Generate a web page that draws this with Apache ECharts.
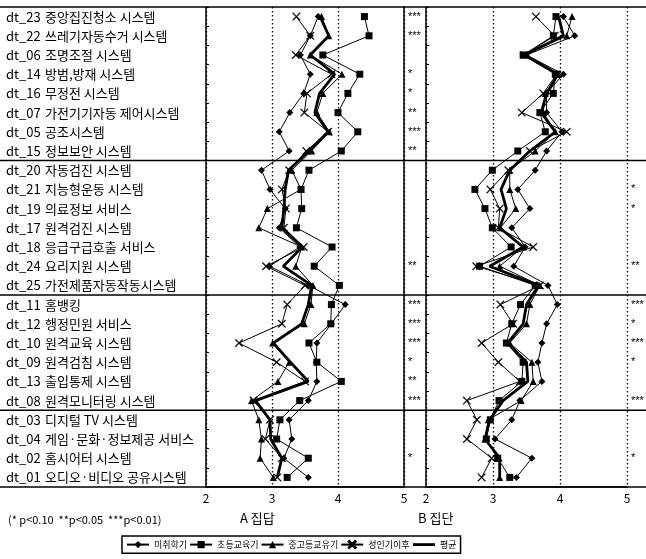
<!DOCTYPE html>
<html><head><meta charset="utf-8">
<script src="https://cdn.jsdelivr.net/npm/echarts/dist/echarts.min.js"></script>
<style>html,body{margin:0;padding:0;background:#fff}#c{width:646px;height:559px}</style>
</head><body><div id="c"></div>
<script>
const categories = [
  "dt_23 중앙집진청소 시스템", "dt_22 쓰레기자동수거 시스템", "dt_06 조명조절 시스템",
  "dt_14 방범,방재 시스템", "dt_16 무정전 시스템", "dt_07 가전기기자동 제어시스템",
  "dt_05 공조시스템", "dt_15 정보보안 시스템",
  "dt_20 자동검진 시스템", "dt_21 지능형운동 시스템", "dt_19 의료정보 서비스",
  "dt_17 원격검진 시스템", "dt_18 응급구급호출 서비스", "dt_24 요리지원 시스템",
  "dt_25 가전제품자동작동시스템",
  "dt_11 홈뱅킹", "dt_12 행정민원 서비스", "dt_10 원격교육 시스템", "dt_09 원격검침 시스템",
  "dt_13 출입통제 시스템", "dt_08 원격모니터링 시스템",
  "dt_03 디지털 TV 시스템", "dt_04 게임·문화·정보제공 서비스", "dt_02 홈시어터 시스템",
  "dt_01 오디오·비디오 공유시스템"
];
const starsA = ["***","***","","*","*","**","***","**","","","","","","**","","***","***","***","*","**","***","","","*",""];
const starsB = ["","","","","","","","","","*","*","","","**","","***","*","***","*","","***","","","*",""];
const groupEnds = [8, 15, 21];
const xTicks = [2, 3, 4, 5];
const seriesNames = ["미취학기", "초등교육기", "중고등교유기", "성인기이후", "평균"];

// A 집답
const preschoolA  = [3.70,3.58,3.43,3.58,3.48,3.27,3.11,3.26, 2.84,2.97,3.20,3.11,3.42,2.96,3.55, 4.11,3.90,3.68,3.67,3.68,3.55, 3.26,3.30,3.18,3.55];
const elementaryA = [4.40,4.47,3.77,4.33,4.15,4.00,4.30,4.05, 3.56,3.44,3.45,3.37,3.91,3.64,4.02, 3.90,3.89,3.56,3.68,4.05,3.42, 3.12,3.07,3.55,3.23];
const secondaryA  = [3.75,3.86,3.58,4.06,3.77,3.68,3.87,3.60, 3.30,3.44,2.93,2.80,3.45,3.36,3.62, 3.59,3.49,3.01,3.26,3.09,2.69, 2.80,2.84,2.82,3.02];
const adultA      = [3.37,3.58,3.36,3.90,3.53,3.49,3.85,3.52, 3.26,3.15,3.21,3.18,3.48,2.91,3.50, 3.23,3.15,2.50,3.07,3.50,2.72, 2.97,2.90,3.15,3.08];
const meanA       = [3.73,3.86,3.58,3.95,3.72,3.65,3.85,3.56, 3.25,3.20,3.18,3.15,3.46,3.17,3.60, 3.55,3.45,3.02,3.28,3.55,2.75, 2.97,2.98,3.15,3.08];

// B 집단
const preschoolB  = [4.05,4.22,3.50,4.05,3.80,3.80,4.03,3.80, 3.63,3.37,3.55,3.28,3.48,3.31,3.82, 3.96,3.80,3.73,3.67,3.73,3.40, 3.28,3.03,3.58,3.35];
const elementaryB = [3.94,3.90,3.45,3.93,3.90,3.70,3.78,3.37, 2.99,2.73,2.88,2.99,3.27,2.80,3.63, 3.41,3.28,3.20,3.45,3.43,3.09, 2.96,2.90,3.07,3.25];
const secondaryB  = [4.18,4.10,3.48,3.98,3.78,3.75,3.93,3.63, 3.25,3.25,3.34,3.11,3.45,3.10,3.70, 3.55,3.50,3.25,3.58,3.60,3.42, 2.93,2.88,3.09,3.10];
const adultB      = [3.64,3.92,3.47,3.95,3.75,3.43,4.10,3.55, 3.23,2.96,3.10,3.08,3.60,2.75,3.70, 3.11,3.30,2.83,3.08,3.40,2.61, 2.76,2.61,2.98,2.83];
const meanB       = [3.98,4.05,3.47,3.97,3.80,3.72,3.93,3.55, 3.25,3.12,3.20,3.10,3.45,2.95,3.68, 3.50,3.45,3.22,3.50,3.52,3.15, 2.95,2.88,3.10,3.10];

const FONT = '"Noto Sans CJK KR", "Noto Sans", sans-serif';
const XSYM = 'path://M0,0.9L0.9,0L5,4.1L9.1,0L10,0.9L5.9,5L10,9.1L9.1,10L5,5.9L0.9,10L0,9.1L4.1,5Z';
const symbols = ['diamond', 'rect', 'triangle', XSYM, 'none'];
const symSizes = [7, 7, 7, 8, 0];
const panels = [
  [preschoolA, elementaryA, secondaryA, adultA, meanA],
  [preschoolB, elementaryB, secondaryB, adultB, meanB]
];

const series = [];
panels.forEach((vals, p) => {
  vals.forEach((arr, s) => {
    series.push({
      name: seriesNames[s], type: 'line', xAxisIndex: p, yAxisIndex: p * 2,
      data: arr.map((v, i) => [v, categories[i]]),
      symbol: symbols[s], symbolSize: symSizes[s], showSymbol: s < 4,
      lineStyle: { color: '#000', width: s === 4 ? 2.8 : 1 },
      itemStyle: { color: '#000', borderColor: '#000', borderWidth: s === 3 ? 0.3 : 0 },
      z: s === 4 ? 3 : 4, animation: false
    });
  });
});

function xAxisCfg(g) {
  return {
    gridIndex: g, type: 'value', min: 2, max: 5, interval: 1,
    axisLine: { show: true, lineStyle: { color: '#000', width: 1.5 } },
    axisTick: { show: false },
    axisLabel: { color: '#000', fontSize: 12, margin: 5, fontFamily: FONT,
      formatter: v => xTicks.indexOf(v) >= 0 ? String(v) : '' },
    splitLine: { show: true, lineStyle: { color: '#000', type: [1.5, 2.5], width: 1.3 } }
  };
}
function yAxisMain(g, labels) {
  return {
    gridIndex: g, type: 'category', data: categories, inverse: true, position: 'left',
    axisLine: { show: true, lineStyle: { color: '#000', width: 1.5 } },
    axisTick: { show: true, inside: true, length: 3, lineStyle: { color: '#000' } },
    axisLabel: labels ? {
      show: true, interval: 0, align: 'left', margin: 200, color: '#000',
      formatter: v => { const i = v.indexOf(' '); return '{c|' + v.slice(0, i) + '}{n|' + v.slice(i + 1) + '}'; },
      rich: { c: { width: 39, fontSize: 13, fontFamily: FONT, color: '#000' },
              n: { fontSize: 13, fontFamily: FONT, color: '#000' } }
    } : { show: false },
    splitLine: { show: false }
  };
}
function yAxisStars(g, stars, lineShow) {
  return {
    gridIndex: g, type: 'category', data: categories, inverse: true, position: 'right',
    axisLine: { show: lineShow, lineStyle: { color: '#000', width: 1.5 } },
    axisTick: { show: false },
    axisLabel: { show: true, interval: 0, margin: 4, color: '#000', fontSize: 11,
      fontFamily: '"Liberation Sans", sans-serif', padding: [6, 0, 0, 0],
      formatter: (v, i) => stars[i] },
    splitLine: { show: false }
  };
}

const legendData = seriesNames.map((n, s) => s === 4
  ? { name: n, itemStyle: { opacity: 0 }, lineStyle: { width: 2.8 } }
  : { name: n });

const option = {
  backgroundColor: '#fff',
  animation: false,
  grid: [
    { left: 206, top: 7, width: 198, height: 480, outerBoundsMode: 'none', containLabel: false },
    { left: 426, top: 7, width: 201, height: 480, outerBoundsMode: 'none', containLabel: false }
  ],
  xAxis: [xAxisCfg(0), xAxisCfg(1)],
  yAxis: [yAxisMain(0, true), yAxisStars(0, starsA, true), yAxisMain(1, false), yAxisStars(1, starsB, false)],
  legend: {
    data: legendData, left: 122, top: 536, orient: 'horizontal',
    itemWidth: 22, itemHeight: 9, itemGap: 2, padding: [4, 4, 4, 4],
    borderColor: '#000', borderWidth: 1.5,
    textStyle: { color: '#000', fontSize: 9, fontFamily: FONT }
  },
  series: series
};

const chart = echarts.init(document.getElementById('c'), null, { renderer: 'canvas' });
chart.setOption(option);

const yc = i => chart.convertToPixel({ yAxisIndex: 0 }, categories[i]);
const band = yc(1) - yc(0);
const bounds = [0].concat(groupEnds, [categories.length]).map(k => yc(0) + band * (k - 0.5));
const graphics = bounds.map((y, k) => ({
  type: 'line', id: 'h' + k, z: 50,
  shape: { x1: 0, y1: y, x2: 646, y2: y },
  style: { stroke: '#000', lineWidth: 1.5 }
}));
graphics.push(
  { type: 'text', id: 'note', left: 8, top: 514, style: { text: '(* p<0.10  **p<0.05  ***p<0.01)', fill: '#000', font: '11px ' + FONT } },
  { type: 'text', id: 'ta', left: 240, top: 512, style: { text: 'A 집답', fill: '#000', font: '13px ' + FONT } },
  { type: 'text', id: 'tb', left: 418, top: 512, style: { text: 'B 집단', fill: '#000', font: '13px ' + FONT } }
);
chart.setOption({ graphic: graphics });
</script>
</body></html>
